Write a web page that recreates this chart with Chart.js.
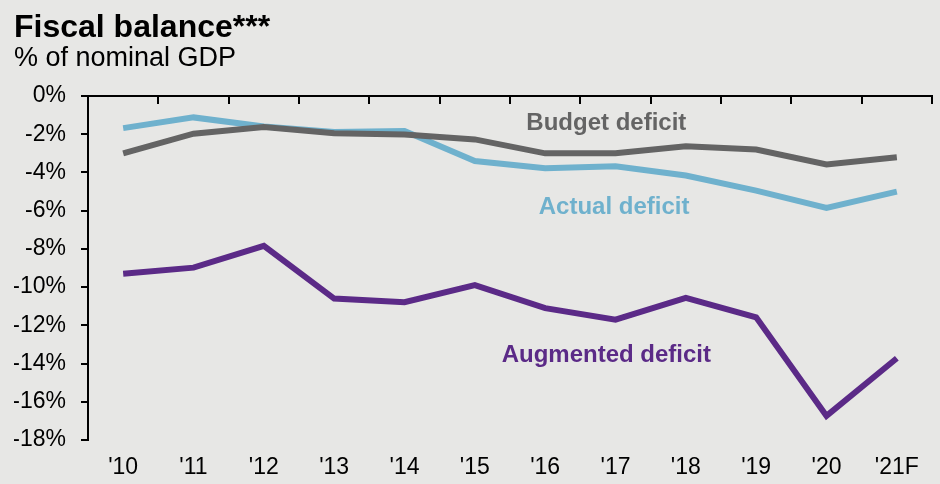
<!DOCTYPE html>
<html>
<head>
<meta charset="utf-8">
<script src="https://cdn.jsdelivr.net/npm/chart.js@4/dist/chart.umd.min.js"></script>
<style>
  html, body { margin: 0; padding: 0; background: #e7e7e5; }
  #wrap { width: 940px; height: 484px; position: relative; }
</style>
</head>
<body>
<div id="wrap"><canvas id="chart"></canvas></div>
<script>
const years = ["'10", "'11", "'12", "'13", "'14", "'15", "'16", "'17", "'18", "'19", "'20", "'21F"];
const budgetDeficit = [-3.0, -1.97, -1.62, -1.95, -2.02, -2.27, -3.0, -3.0, -2.63, -2.8, -3.58, -3.2];
const actualDeficit = [-1.68, -1.12, -1.6, -1.88, -1.83, -3.4, -3.78, -3.68, -4.16, -4.95, -5.85, -5.0];
const augmentedDeficit = [-9.3, -8.98, -7.84, -10.6, -10.79, -9.9, -11.1, -11.7, -10.56, -11.58, -16.74, -13.72];

// in-chart series labels: [text, category index, y value, colour]
const seriesLabels = [
  ['Budget deficit', 6.87, -1.42, '#646464'],
  ['Actual deficit', 6.98, -5.84, '#6fb1cd'],
  ['Augmented deficit', 6.87, -13.58, '#5b2a87'],
];

const FONT = 'Liberation Sans, Arial, sans-serif';

const labelPlugin = {
  id: 'seriesLabels',
  afterDatasetsDraw(chart) {
    const { ctx, scales } = chart;
    ctx.save();
    ctx.font = `bold 24px ${FONT}`;
    ctx.textAlign = 'center';
    ctx.textBaseline = 'middle';
    seriesLabels.forEach(([text, xi, yv, color]) => {
      ctx.fillStyle = color;
      ctx.fillText(text, scales.x.getPixelForValue(xi), scales.y.getPixelForValue(yv));
    });
    ctx.restore();
  },
};

const lineStyle = (color) => ({
  borderColor: color,
  backgroundColor: color,
  borderWidth: 6,
  pointRadius: 0,
  tension: 0,
  fill: false,
  borderJoinStyle: 'miter',
});

new Chart(document.getElementById('chart'), {
  type: 'line',
  data: {
    labels: years,
    datasets: [
      { label: 'Budget deficit', data: budgetDeficit, ...lineStyle('#646464') },
      { label: 'Actual deficit', data: actualDeficit, ...lineStyle('#6fb1cd') },
      { label: 'Augmented deficit', data: augmentedDeficit, ...lineStyle('#5b2a87') },
    ],
  },
  plugins: [labelPlugin],
  options: {
    responsive: true,
    maintainAspectRatio: false,
    animation: false,
    layout: { padding: { left: 14, right: 8, top: 0, bottom: 0 } },
    plugins: {
      legend: { display: false },
      tooltip: { enabled: false },
      title: {
        display: true,
        text: 'Fiscal balance***',
        align: 'start',
        color: '#000',
        font: { family: FONT, size: 32, weight: 'bold', lineHeight: 1.0 },
        padding: { top: 12, bottom: 1 },
      },
      subtitle: {
        display: true,
        text: '% of nominal GDP',
        align: 'start',
        color: '#000',
        font: { family: FONT, size: 27, lineHeight: 1.0 },
        padding: { top: 0, bottom: 24 },
      },
    },
    scales: {
      x: {
        position: 'bottom',
        offset: true,
        afterFit: (scale) => { scale.height = 44; },
        grid: { display: false },
        border: { display: false },
        ticks: { color: '#000', font: { family: FONT, size: 23 }, padding: 6, maxRotation: 0 },
      },
      xTop: {
        type: 'category',
        labels: years,
        position: { y: 0 },
        offset: true,
        grid: { offset: true, drawOnChartArea: false, drawTicks: true, tickLength: 7, color: '#000', lineWidth: 2 },
        border: { display: true, color: '#000', width: 2 },
        ticks: { display: false },
      },
      y: {
        min: -18,
        max: 0,
        afterFit: (scale) => { scale.width = 74; },
        ticks: {
          stepSize: 2,
          color: '#000',
          font: { family: FONT, size: 23 },
          padding: 15,
          callback: (v) => v + '%',
        },
        grid: { drawOnChartArea: false, drawTicks: true, tickLength: 7, color: '#000', lineWidth: 2 },
        border: { display: true, color: '#000', width: 2 },
      },
    },
  },
});
</script>
</body>
</html>
